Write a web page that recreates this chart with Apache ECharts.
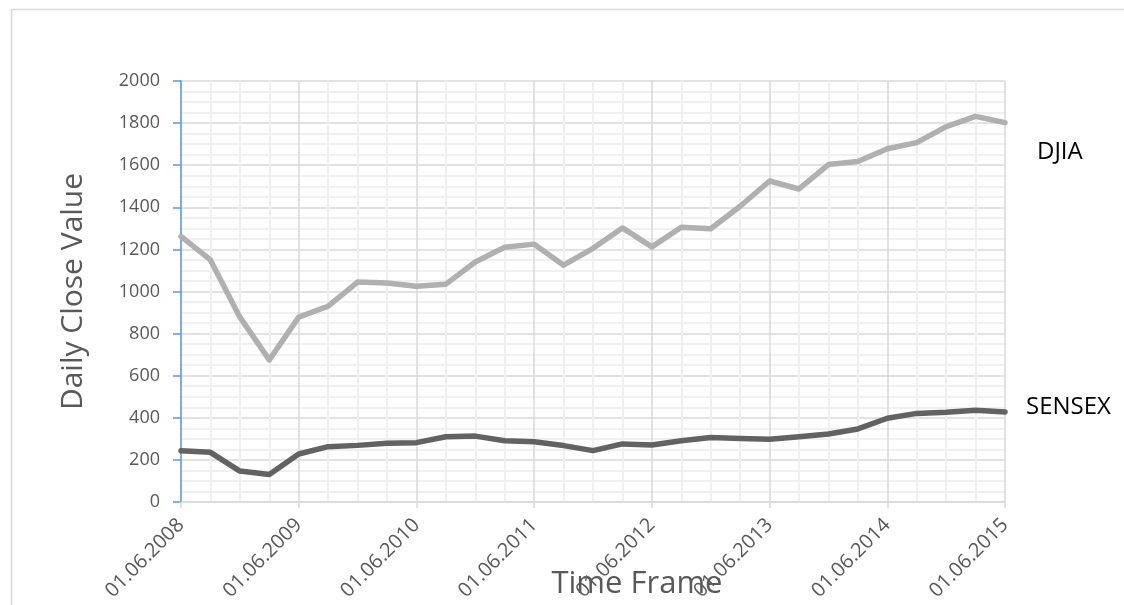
<!DOCTYPE html>
<html>
<head>
<meta charset="utf-8">
<script src="https://cdn.jsdelivr.net/npm/echarts@6/dist/echarts.min.js"></script>
<style>
  html, body { margin: 0; padding: 0; background: #ffffff; overflow: hidden; }
  #chart { width: 1124px; height: 605px; }
</style>
</head>
<body>
<div id="chart"></div>
<script>
// Quarterly observation dates (index 0..28)
const dates = [
  '01.06.2008','01.09.2008','01.12.2008','01.03.2009',
  '01.06.2009','01.09.2009','01.12.2009','01.03.2010',
  '01.06.2010','01.09.2010','01.12.2010','01.03.2011',
  '01.06.2011','01.09.2011','01.12.2011','01.03.2012',
  '01.06.2012','01.09.2012','01.12.2012','01.03.2013',
  '01.06.2013','01.09.2013','01.12.2013','01.03.2014',
  '01.06.2014','01.09.2014','01.12.2014','01.03.2015',
  '01.06.2015'
];

// Daily close values (scaled)
const djia = [
  1262, 1150, 878, 675,
  878, 930, 1045, 1040,
  1025, 1035, 1140, 1210,
  1225, 1125, 1205, 1302,
  1212, 1305, 1298, 1405,
  1525, 1487, 1603, 1618,
  1678, 1707, 1783, 1832,
  1802
];
const sensex = [
  244, 236, 147, 131,
  228, 263, 269, 279,
  282, 310, 313, 291,
  286, 268, 244, 276,
  271, 291, 306, 302,
  298, 310, 323, 347,
  398, 421, 426, 436,
  428
];

// Y axis tick labels
const yTicks = [0, 200, 400, 600, 800, 1000, 1200, 1400, 1600, 1800, 2000];

const seriesNames = ['DJIA', 'SENSEX'];

const toPairs = arr => arr.map((v, i) => [i, v]);

const chart = echarts.init(document.getElementById('chart'), null, { renderer: 'canvas' });

const font = '"Open Sans", "DejaVu Sans", sans-serif';

chart.setOption({
  animation: false,
  backgroundColor: '#ffffff',
  graphic: [{
    type: 'rect',
    left: 9, top: 7,
    shape: { x: 0, y: 0, width: 1140, height: 640 },
    style: { fill: 'none', stroke: '#d9d9d9', lineWidth: 1.5 },
    silent: true, z: -1
  }],
  grid: { left: 181, right: 119, top: 81, bottom: 103, containLabel: false, outerBoundsMode: 'none' },
  xAxis: {
    type: 'value',
    min: 0, max: dates.length - 1, interval: 4,
    name: 'Time Frame',
    nameLocation: 'middle',
    nameGap: 67,
    nameMoveOverlap: false,
    nameTextStyle: { fontFamily: font, fontSize: 31, color: '#595959', padding: [0, 0, 0, 88] },
    axisLine: { show: true, lineStyle: { color: '#d9d9d9', width: 1.5 } },
    axisTick: { show: true, length: 6, lineStyle: { color: '#d9d9d9', width: 1.5 } },
    minorTick: { show: false, splitNumber: 4 },
    axisLabel: {
      rotate: 45,
      margin: 20,
      fontFamily: font, fontSize: 20, color: '#595959',
      formatter: v => dates[Math.round(v)] || ''
    },
    splitLine: { show: true, lineStyle: { color: '#d9d9d9', width: 1.5 } },
    minorSplitLine: { show: true, lineStyle: { color: '#f0f0f0', width: 2 } }
  },
  yAxis: {
    type: 'value',
    min: yTicks[0], max: yTicks[yTicks.length - 1], interval: 200,
    name: 'Daily Close Value',
    nameLocation: 'middle',
    nameGap: 93,
    nameRotate: 90,
    nameMoveOverlap: false,
    nameTextStyle: { fontFamily: font, fontSize: 30, color: '#595959' },
    axisLine: { show: true, lineStyle: { color: '#5b9bd5', width: 1.5 } },
    axisTick: { show: true, length: 8, lineStyle: { color: '#5b9bd5', width: 1.5 } },
    minorTick: { show: false, splitNumber: 4 },
    axisLabel: { margin: 21, fontFamily: font, fontSize: 18, color: '#595959', formatter: v => String(v) },
    splitLine: { show: true, lineStyle: { color: '#d9d9d9', width: 1.5 } },
    minorSplitLine: { show: true, lineStyle: { color: '#f0f0f0', width: 2 } }
  },
  series: [
    {
      name: seriesNames[0],
      type: 'line',
      data: toPairs(djia),
      showSymbol: false,
      symbol: 'none',
      lineStyle: { color: '#b0b0b0', width: 5.5, cap: 'round', join: 'round' },
      endLabel: {
        show: true,
        formatter: '{a}',
        offset: [24, 29],
        fontFamily: font, fontSize: 24, color: '#000000'
      },
      z: 3
    },
    {
      name: seriesNames[1],
      type: 'line',
      data: toPairs(sensex),
      showSymbol: false,
      symbol: 'none',
      lineStyle: { color: '#626262', width: 5.5, cap: 'round', join: 'round' },
      endLabel: {
        show: true,
        formatter: '{a}',
        offset: [13, -5],
        fontFamily: font, fontSize: 24, color: '#000000'
      },
      z: 4
    }
  ]
});
</script>
</body>
</html>
